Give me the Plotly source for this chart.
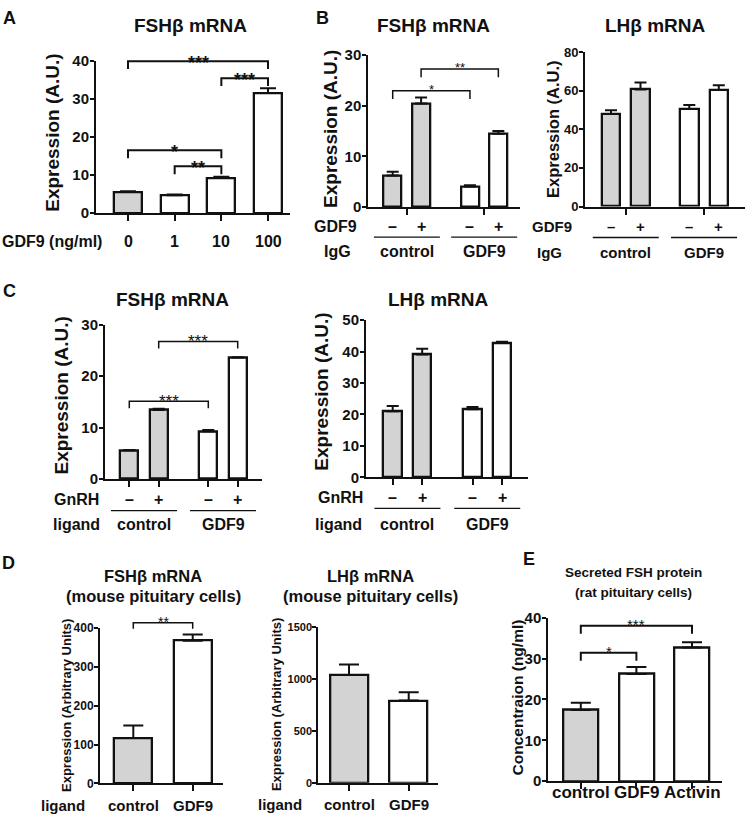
import plotly.graph_objects as go

W, H = 745, 822
FONT = "Liberation Sans, Arial, Helvetica, sans-serif"
GREY = "#d3d3d3"
INK = "#111111"

# ---------------- data ----------------
# Panel A
A_dose = ["0", "1", "10", "100"]
A_fsh = [5.6, 4.7, 9.2, 31.6]
A_fsh_sem = [0.12, 0.15, 0.35, 1.3]
A_sig = [(0, 3, "***"), (2, 3, "***"), (0, 2, "*"), (1, 2, "**")]
A_sig_y = [40.0, 35.5, 16.5, 12.3]

# Panel B
B_gdf9 = ["–", "+", "–", "+"]
B_igg = ["control", "GDF9"]
B_fsh = [6.2, 20.4, 4.05, 14.45]
B_fsh_sem = [0.75, 1.2, 0.25, 0.55]
B_fsh_sig = [(0, 2, "*"), (1, 3, "**")]
B_fsh_sig_y = [22.9, 27.2]
B_lh = [47.9, 60.6, 50.5, 60.4]
B_lh_sem = [2.0, 3.7, 2.1, 2.4]

# Panel C
C_gnrh = ["–", "+", "–", "+"]
C_ligand = ["control", "GDF9"]
C_fsh = [5.6, 13.4, 9.3, 23.6]
C_fsh_sem = [0.06, 0.25, 0.22, 0.08]
C_fsh_sig = [(0, 2, "***"), (1, 3, "***")]
C_fsh_sig_y = [15.1, 26.7]
C_lh = [21.0, 39.1, 21.7, 42.7]
C_lh_sem = [1.7, 1.8, 0.7, 0.4]

# Panel D
D_ligand = ["control", "GDF9"]
D_fsh = [117, 368]
D_fsh_sem = [32, 16]
D_fsh_sig = [(0, 1, "**")]
D_fsh_sig_y = [414]
D_lh = [1038, 792]
D_lh_sem = [100, 79]

# Panel E
E_treat = ["control", "GDF9", "Activin"]
E_fsh = [17.4, 26.2, 32.7]
E_fsh_sem = [1.8, 1.7, 1.3]
E_sig = [(0, 2, "***"), (0, 1, "*")]
E_sig_y = [38.0, 31.4]

# ---------------- figure ----------------
fig = go.Figure()
annotations, shapes, axes = [], [], {}


def names(k):
    s = "" if k == 1 else str(k)
    return "x" + s, "y" + s, "xaxis" + s, "yaxis" + s


def text(t, x, y, size, xref="paper", yref="paper", bold=True, angle=0,
         xanchor="center", yanchor="middle", yshift=0, family=FONT):
    if xref == "paper":
        x = x / W
    if yref == "paper":
        y = 1 - y / H
    annotations.append(dict(
        text=t, x=x, y=y, xref=xref, yref=yref, showarrow=False,
        font=dict(family=family, size=size, color=INK,
                  weight="bold" if bold else "normal"),
        textangle=angle, xanchor=xanchor, yanchor=yanchor, yshift=yshift))


def panel(k, vals, sem, sp, sig=None, sig_y=None):
    xa, ya, xkey, ykey = names(k)
    n = len(vals)
    per = sp.get("per", 1)
    ngroups = n // per
    gap = sp.get("gap", 1)
    pos = [g * gap + j for g in range(ngroups) for j in range(per)]
    gc = [g * gap + (per - 1) / 2 for g in range(ngroups)]
    L, R = sp["xdom"]
    c0, unit = sp["c0"], sp["unit"]
    y0, yt = sp["y0"], sp["ytop"]
    ymax = sp["yticks"][-1]
    ppu = (y0 - yt) / ymax
    colors = [GREY if i // per == 0 else "white" for i in range(n)]
    fig.add_trace(go.Bar(
        x=pos, y=vals, width=sp["bw"] / unit,
        marker=dict(color=colors, line=dict(color=INK, width=2.3)),
        error_y=dict(type="data", symmetric=False, array=sem,
                     arrayminus=[0] * n, color=INK, thickness=2,
                     width=sp["cap"]),
        xaxis=xa, yaxis=ya, showlegend=False, hoverinfo="skip"))
    tv = gc if sp.get("xticks") == "group" else pos
    axes[xkey] = dict(
        domain=[L / W, R / W], range=[(L - c0) / unit, (R - c0) / unit],
        anchor=ya, showline=True, linecolor=INK, linewidth=2,
        ticks="outside", tickvals=tv, ticklen=6, tickwidth=2, tickcolor=INK,
        showticklabels=False, showgrid=False, zeroline=False, fixedrange=True)
    axes[ykey] = dict(
        domain=[1 - y0 / H, 1 - yt / H], range=[0, ymax], anchor=xa,
        showline=True, linecolor=INK, linewidth=2, ticks="outside",
        tickvals=sp["yticks"], ticklen=4, tickwidth=2, tickcolor=INK,
        ticklabelstandoff=-2,
        tickfont=dict(family=FONT, size=sp["tfs"], color=INK, weight="bold"),
        showgrid=False, zeroline=False, fixedrange=True)
    if sig:
        _, yb, _, ybkey = names(k + 8)
        top = yt - 40
        axes[ybkey] = dict(domain=[1 - y0 / H, 1 - top / H],
                           range=[0, (y0 - top) / ppu], anchor=xa,
                           visible=False, fixedrange=True)
        drop = sp["drop"] / ppu
        bx, by = [], []
        for (i, j, star), lvl in zip(sig, sig_y):
            bx += [pos[i], pos[i], pos[j], pos[j], None]
            by += [lvl - drop, lvl, lvl, lvl - drop, None]
            text(star, (pos[i] + pos[j]) / 2, lvl, sp["sfs"], xref=xa,
                 yref=yb, bold=sp["sbold"],
                 yshift=sp["sgap"] - 0.36 * sp["sfs"])
        fig.add_trace(go.Scatter(
            x=bx, y=by, mode="lines", line=dict(color=INK, width=sp["blw"]),
            xaxis=xa, yaxis=yb, showlegend=False, hoverinfo="skip"))
    return xa, pos, gc, unit


def group_rows(xa, pos, gc, unit, top_labels, grp_labels, y_top, y_line,
               y_grp, size=16, half=33):
    for p, lab in zip(pos, top_labels):
        text(lab, p, y_top, size, xref=xa)
    for c, lab in zip(gc, grp_labels):
        text(lab, c, y_grp, size, xref=xa)
        shapes.append(dict(type="line", xref=xa, yref="paper",
                           x0=c - half / unit, x1=c + half / unit,
                           y0=1 - y_line / H, y1=1 - y_line / H,
                           line=dict(color=INK, width=1.3)))


# ----- Panel A -----
spA = dict(xdom=(96, 290), c0=128, unit=46.67, bw=28, cap=8, y0=208.3,
           ytop=53.3, yticks=[0, 10, 20, 30, 40], tfs=15, drop=8, sfs=18,
           sbold=True, sgap=5, blw=2)
xa, pos, gc, unit = panel(1, A_fsh, A_fsh_sem, spA, A_sig, A_sig_y)
for p, lab in zip(pos, A_dose):
    text(lab, p, 237, 16, xref=xa)
text("GDF9 (ng/ml)", 52, 237, 16)
text("FSHβ mRNA", 190, 17, 19)
text("Expression (A.U.)", 51.7, 126.7, 19, angle=-90)
text("A", 1, 9, 18, xanchor="left")

# ----- Panel B left -----
spB1 = dict(xdom=(368.3, 520), c0=392.7, unit=28.4, per=2, gap=2.72, bw=18,
            cap=6, y0=202.3, ytop=46.7, yticks=[0, 10, 20, 30], tfs=15,
            xticks="group", drop=8.5, sfs=13, sbold=False, sgap=6, blw=1.5)
xa, pos, gc, unit = panel(2, B_fsh, B_fsh_sem, spB1, B_fsh_sig, B_fsh_sig_y)
group_rows(xa, pos, gc, unit, B_gdf9, B_igg, 221.7, 233, 248)
text("GDF9", 335.5, 221.7, 16)
text("IgG", 337, 248, 16)
text("FSHβ mRNA", 434, 17, 19)
text("Expression (A.U.)", 331, 122.5, 19, angle=-90)
text("B", 314, 9, 18, xanchor="left")

# ----- Panel B right -----
spB2 = dict(xdom=(585, 745), c0=611, unit=29.5, per=2, gap=2.654, bw=18.5,
            cap=6, y0=201.7, ytop=44, yticks=[0, 20, 40, 60, 80], tfs=13,
            xticks="group")
xa, pos, gc, unit = panel(3, B_lh, B_lh_sem, spB2)
group_rows(xa, pos, gc, unit, B_gdf9, B_igg, 221.7, 233.3, 248.3, size=15)
text("GDF9", 551.7, 221.7, 15)
text("IgG", 549.3, 248.3, 15)
text("LHβ mRNA", 655.7, 17, 19)
text("Expression (A.U.)", 553, 122.5, 16.5, angle=-90)

# ----- Panel C left -----
spC1 = dict(xdom=(105, 262), c0=129.3, unit=29.4, per=2, gap=2.687, bw=18,
            cap=6, y0=480, ytop=322.3, yticks=[0, 10, 20, 30], tfs=15,
            drop=7, sfs=17, sbold=False, sgap=6, blw=1.5)
xa, pos, gc, unit = panel(4, C_fsh, C_fsh_sem, spC1, C_fsh_sig, C_fsh_sig_y)
group_rows(xa, pos, gc, unit, C_gnrh, C_ligand, 500.7, 512.3, 526.7)
text("GnRH", 76.7, 500.7, 16)
text("ligand", 76.7, 526.7, 16)
text("FSHβ mRNA", 172, 296.7, 19)
text("Expression (A.U.)", 61.7, 395, 19, angle=-90)
text("C", 1, 288, 18, xanchor="left")

# ----- Panel C right -----
spC2 = dict(xdom=(366, 528.3), c0=392.7, unit=29.5, per=2, gap=2.705,
            bw=18.5, cap=6, y0=478.3, ytop=317.7,
            yticks=[0, 10, 20, 30, 40, 50], tfs=15)
xa, pos, gc, unit = panel(5, C_lh, C_lh_sem, spC2)
group_rows(xa, pos, gc, unit, C_gnrh, C_ligand, 499.3, 510, 526)
text("GnRH", 340, 499.3, 16)
text("ligand", 338.3, 526, 16)
text("LHβ mRNA", 438, 296.7, 19)
text("Expression (A.U.)", 322, 390.8, 19, angle=-90)

# ----- Panel D left -----
spD1 = dict(xdom=(100, 222.7), c0=133.3, unit=59.4, bw=38, cap=10,
            y0=790.7, ytop=632.3, yticks=[0, 100, 200, 300, 400], tfs=12,
            drop=6, sfs=14, sbold=False, sgap=6, blw=1.5)
xa, pos, gc, unit = panel(7, D_fsh, D_fsh_sem, spD1, D_fsh_sig, D_fsh_sig_y)
for p, lab in zip(pos, D_ligand):
    text(lab, p, 813.3, 15, xref=xa)
text("ligand", 63.3, 813.3, 15)
text("FSHβ mRNA", 153, 579, 16.5)
text("(mouse pituitary cells)", 153, 599, 16.5)
text("Expression (Arbitrary Units)", 67, 711.7, 13, angle=-90)
text("D", 0, 566, 18, xanchor="left")

# ----- Panel D right -----
spD2 = dict(xdom=(318.3, 438.3), c0=349, unit=59.7, bw=38, cap=10, y0=790,
            ytop=631, yticks=[0, 500, 1000, 1500], tfs=11)
xa, pos, gc, unit = panel(6, D_lh, D_lh_sem, spD2)
for p, lab in zip(pos, D_ligand):
    text(lab, p, 812.3, 15, xref=xa)
text("ligand", 280, 812.3, 15)
text("LHβ mRNA", 370, 579, 16.5)
text("(mouse pituitary cells)", 370, 599, 16.5)
text("Expression (Arbitrary Units)", 276, 710.8, 13, angle=-90)

# ----- Panel E -----
spE = dict(xdom=(548.3, 721.7), c0=580.8, unit=55.6, bw=35, cap=10,
           y0=788.5, ytop=621.5, yticks=[0, 10, 20, 30, 40], tfs=15,
           drop=8, sfs=15, sbold=False, sgap=7, blw=2)
xa, pos, gc, unit = panel(8, E_fsh, E_fsh_sem, spE, E_sig, E_sig_y)
for p, lab in zip(pos, E_treat):
    text(lab, p, 800, 17, xref=xa)
text("Secreted FSH protein", 633, 575, 13.5)
text("(rat pituitary cells)", 633, 595.5, 13.5)
text("Concentraion (ng/ml)", 517, 703, 15.5, angle=-90)
text("E", 521, 562, 18, xanchor="left")

fig.update_layout(
    width=W, height=H, autosize=False,
    margin=dict(l=0, r=0, t=0, b=0),
    paper_bgcolor="white", plot_bgcolor="rgba(0,0,0,0)",
    font=dict(family=FONT, color=INK),
    annotations=annotations, shapes=shapes, showlegend=False,
    bargap=0, **axes)

fig.write_html("out.html", config={"displayModeBar": False},
               post_script="document.body.style.margin='0px';")
